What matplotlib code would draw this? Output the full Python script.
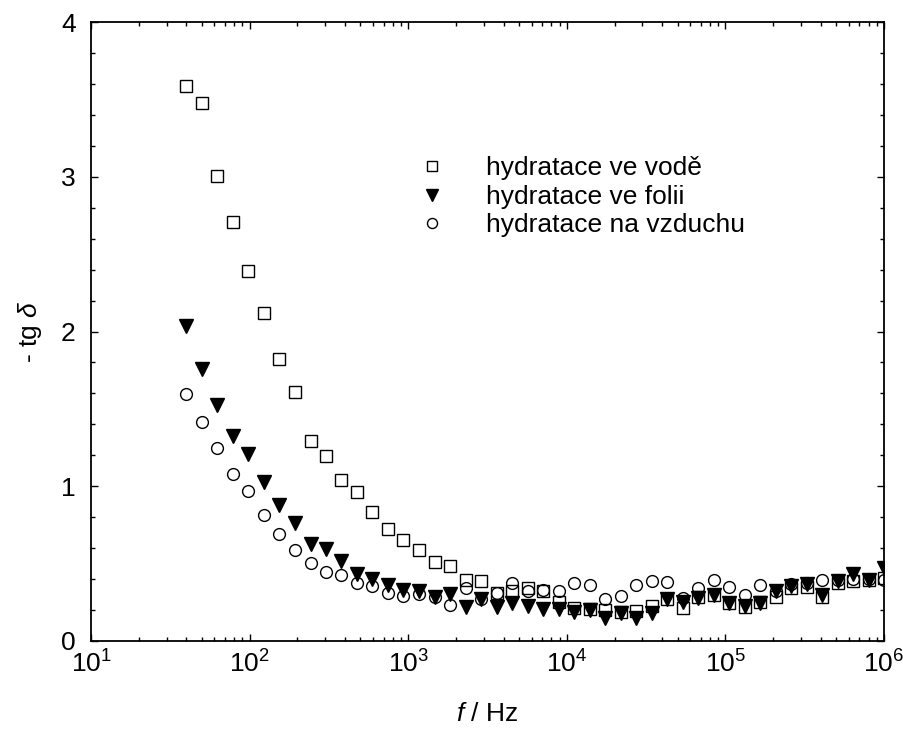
import matplotlib.pyplot as plt

plt.rcParams["font.family"] = ["Liberation Sans", "DejaVu Sans"]
plt.rcParams["mathtext.fontset"] = "custom"
plt.rcParams["mathtext.rm"] = "Liberation Sans"
plt.rcParams["mathtext.it"] = "Liberation Sans:italic"

# frekvence (Hz), 46 bodu od 40 Hz do 1 MHz
freq = [40, 50.1, 62.7, 78.6, 98.4, 123.2, 154.3, 193.3, 242.1, 303.2,
        379.7, 475.5, 595.5, 745.8, 934, 1170, 1465, 1835, 2298, 2878,
        3604, 4514, 5653, 7080, 8867, 11105, 13908, 17418, 21814, 27320,
        34216, 42851, 53666, 67211, 84174, 105420, 132025, 165350, 207080, 259350,
        324800, 406770, 509430, 638010, 799040, 1000000]

# - tg delta
voda = [3.587, 3.479, 3.008, 2.708, 2.390, 2.120, 1.820, 1.610, 1.292, 1.193,
        1.042, 0.964, 0.836, 0.726, 0.655, 0.590, 0.512, 0.486, 0.391, 0.385,
        0.309, 0.320, 0.342, 0.326, 0.255, 0.212, 0.205, 0.201, 0.190, 0.195,
        0.227, 0.274, 0.212, 0.283, 0.298, 0.244, 0.222, 0.255, 0.283, 0.342,
        0.348, 0.283, 0.374, 0.385, 0.396, 0.410]
folie = [2.034, 1.757, 1.526, 1.325, 1.206, 1.029, 0.877, 0.763, 0.627, 0.594,
         0.514, 0.432, 0.400, 0.360, 0.331, 0.326, 0.283, 0.305, 0.218, 0.274,
         0.222, 0.244, 0.227, 0.205, 0.205, 0.190, 0.201, 0.147, 0.180, 0.147,
         0.180, 0.270, 0.255, 0.277, 0.298, 0.244, 0.227, 0.244, 0.320, 0.357,
         0.370, 0.298, 0.385, 0.434, 0.396, 0.471]
vzduch = [1.597, 1.418, 1.249, 1.081, 0.968, 0.812, 0.689, 0.590, 0.504, 0.445,
          0.426, 0.378, 0.357, 0.309, 0.290, 0.305, 0.283, 0.233, 0.342, 0.274,
          0.309, 0.374, 0.320, 0.331, 0.320, 0.374, 0.363, 0.270, 0.292, 0.365,
          0.385, 0.380, 0.281, 0.342, 0.396, 0.346, 0.298, 0.363, 0.320, 0.370,
          0.378, 0.396, 0.391, 0.402, 0.402, 0.396]

fig = plt.figure(figsize=(9.04, 7.47), dpi=100)
ax = fig.add_axes([91 / 904, 1 - 641 / 747, 793 / 904, 619 / 747])

ax.plot(freq, voda, linestyle="none", marker="s", markersize=8.5,
        markerfacecolor="white", markeredgecolor="black", markeredgewidth=1.0,
        label="hydratace ve vodě")
ax.plot(freq, folie, linestyle="none", marker="v", markersize=9.5,
        color="black", label="hydratace ve folii")
ax.plot(freq, vzduch, linestyle="none", marker="o", markersize=8.5,
        markerfacecolor="none", markeredgecolor="black", markeredgewidth=1.0,
        label="hydratace na vzduchu")

ax.set_xscale("log")
ax.set_xlim(10, 1e6)
ax.set_ylim(0, 4)
ax.set_yticks([0, 1, 2, 3, 4])
ax.set_yticks([0.2 * i for i in range(21)], minor=True)

for s in ax.spines.values():
    s.set_linewidth(1.3)
ax.tick_params(which="both", direction="in", top=True, right=True,
               labelsize=19, width=1.0)
ax.tick_params(which="major", length=5)
ax.tick_params(which="minor", length=3)
ax.tick_params(axis="x", pad=7)
ax.tick_params(axis="y", pad=11)

ax.set_xlabel(r"$f$ / Hz", fontsize=19, labelpad=17)
ax.set_ylabel(r"- tg $\delta$", fontsize=19, labelpad=12)

leg = ax.legend(loc="upper left", bbox_to_anchor=(0.413, 0.783), frameon=False,
                fontsize=19, handlelength=1.0, handletextpad=1.55,
                labelspacing=0.17, borderpad=0, borderaxespad=0, markerscale=0.85)

fig.savefig("out.png", dpi=100)
